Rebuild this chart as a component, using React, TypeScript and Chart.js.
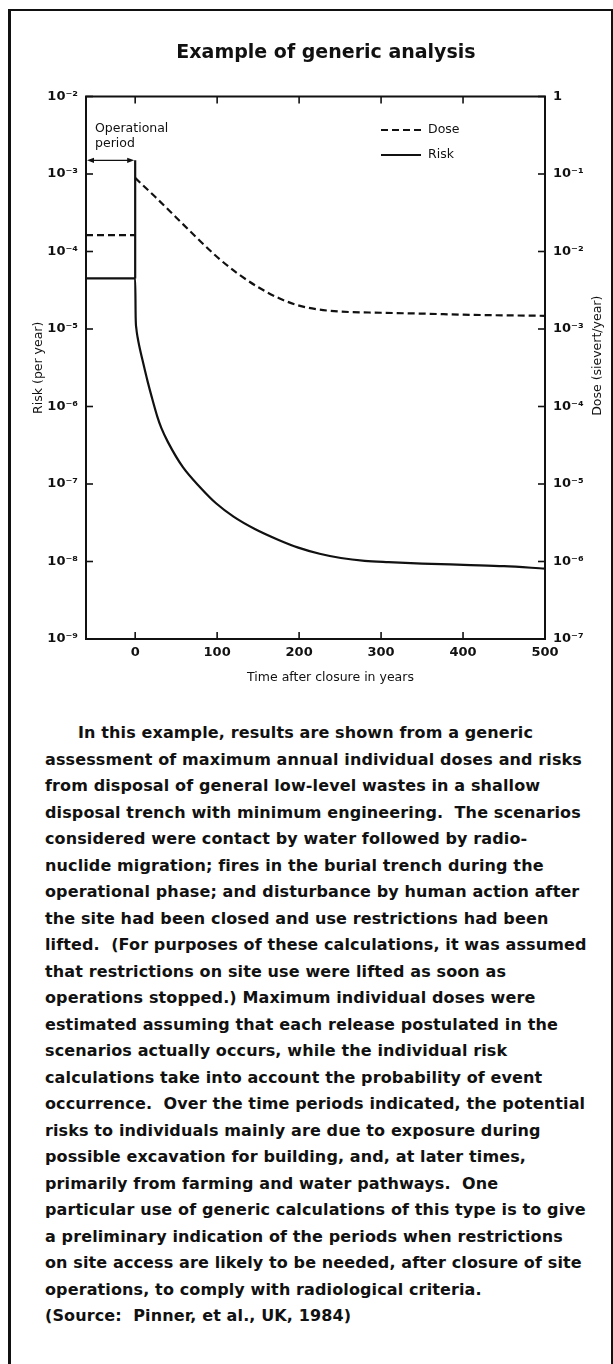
import React, { useEffect, useRef } from 'react';
import { Chart, registerables } from 'chart.js';

Chart.register(...registerables);

// ---------- text ----------
const CHART_TITLE = 'Example of generic analysis';
const X_TITLE = 'Time after closure in years';
const Y_TITLE = 'Risk (per year)';
const Y2_TITLE = 'Dose (sievert/year)';
const OP_LABEL = ['Operational', 'period'];
const LEGEND_LABELS = ['Dose', 'Risk'];

const PARAGRAPH_LINES = [
  'In this example, results are shown from a generic',
  'assessment of maximum annual individual doses and risks',
  'from disposal of general low-level wastes in a shallow',
  'disposal trench with minimum engineering.  The scenarios',
  'considered were contact by water followed by radio-',
  'nuclide migration; fires in the burial trench during the',
  'operational phase; and disturbance by human action after',
  'the site had been closed and use restrictions had been',
  'lifted.  (For purposes of these calculations, it was assumed',
  'that restrictions on site use were lifted as soon as',
  'operations stopped.) Maximum individual doses were',
  'estimated assuming that each release postulated in the',
  'scenarios actually occurs, while the individual risk',
  'calculations take into account the probability of event',
  'occurrence.  Over the time periods indicated, the potential',
  'risks to individuals mainly are due to exposure during',
  'possible excavation for building, and, at later times,',
  'primarily from farming and water pathways.  One',
  'particular use of generic calculations of this type is to give',
  'a preliminary indication of the periods when restrictions',
  'on site access are likely to be needed, after closure of site',
  'operations, to comply with radiological criteria.',
  '(Source:  Pinner, et al., UK, 1984)',
];

// ---------- axes ----------
const X_MIN = -60;
const X_MAX = 500;
const X_TICKS = [0, 100, 200, 300, 400, 500];
const RISK_MIN = 1e-9;
const RISK_MAX = 1e-2;
const RISK_TICKS = [1e-9, 1e-8, 1e-7, 1e-6, 1e-5, 1e-4, 1e-3, 1e-2];
const DOSE_MIN = 1e-7;
const DOSE_MAX = 1;
const DOSE_TICKS = [1e-7, 1e-6, 1e-5, 1e-4, 1e-3, 1e-2, 1e-1, 1];

// ---------- operational period ----------
const OP_START = -60;
const OP_END = 0;
const OP_ARROW_LEVEL = 1.5e-3; // on the risk scale
const OP_MARKER_T = [0, 0];
const OP_MARKER_V = [1.5e-3, 4.5e-5];

// ---------- series ----------
const RISK_T = [-60, 0, 0.6, 1.5, 3, 5, 10, 15, 20, 27, 32, 40, 58, 80, 99, 120, 146, 175, 199, 225, 251, 280, 309, 350, 409, 450, 500];
const RISK_V = [4.5e-5, 4.5e-5, 1.41e-5, 1.0e-5, 7.76e-6, 6.03e-6, 3.55e-6, 2.14e-6, 1.35e-6, 7.41e-7, 5.25e-7, 3.47e-7, 1.66e-7, 8.9e-8, 5.6e-8, 3.8e-8, 2.63e-8, 1.9e-8, 1.51e-8, 1.26e-8, 1.11e-8, 1.02e-8, 9.8e-9, 9.4e-9, 9.0e-9, 8.7e-9, 8.1e-9];

const DOSE_T = [-60, 0, 0, 0, 25, 50, 75, 100, 125, 150, 175, 200, 225, 250, 300, 350, 400, 450, 500];
const DOSE_V = [0.0163, 0.0163, null, 0.089, 0.05, 0.0275, 0.0151, 0.0085, 0.0052, 0.00347, 0.00251, 0.002, 0.00178, 0.00168, 0.00162, 0.00158, 0.00153, 0.0015, 0.00148];

// ---------- style ----------
const INK = '#111111';
const FONT = '"DejaVu Sans", "Liberation Sans", sans-serif';

const SUP: Record<string, string> = {
  '-': '\u207B', '0': '\u2070', '1': '\u00B9', '2': '\u00B2', '3': '\u00B3', '4': '\u2074',
  '5': '\u2075', '6': '\u2076', '7': '\u2077', '8': '\u2078', '9': '\u2079',
};
const powerLabel = (v: number) => {
  const e = Math.round(Math.log10(v));
  if (e === 0) return '1';
  return '10' + String(e).split('').map((c) => SUP[c]).join('');
};

const decorPlugin = {
  id: 'decor',
  afterDraw(chart: any) {
    const { ctx, chartArea: a, scales } = chart;
    const sx = scales.x, sy = scales.y, sy2 = scales.y2;
    ctx.save();
    ctx.strokeStyle = INK;
    ctx.fillStyle = INK;
    const line = (x1: number, y1: number, x2: number, y2: number) => {
      ctx.beginPath(); ctx.moveTo(x1, y1); ctx.lineTo(x2, y2); ctx.stroke();
    };
    // top frame line
    ctx.lineWidth = 2;
    line(a.left - 1, a.top, a.right + 1, a.top);
    // inward tick marks
    ctx.lineWidth = 1.6;
    const L = 7;
    sx.ticks.forEach((t: any) => {
      if (t.value >= X_MAX) return;
      const px = sx.getPixelForValue(t.value);
      line(px, a.top, px, a.top + L);
      line(px, a.bottom, px, a.bottom - L);
    });
    sy.ticks.forEach((t: any) => {
      const py = sy.getPixelForValue(t.value);
      line(a.left, py, a.left + L, py);
    });
    sy2.ticks.forEach((t: any) => {
      const py = sy2.getPixelForValue(t.value);
      line(a.right, py, a.right - L, py);
    });
    // operational period arrow
    const ay = sy.getPixelForValue(OP_ARROW_LEVEL);
    const x1 = sx.getPixelForValue(OP_START) + 1;
    const x2 = sx.getPixelForValue(OP_END) - 1;
    ctx.lineWidth = 1.3;
    line(x1 + 4, ay, x2 - 4, ay);
    const head = (xt: number, dir: number) => {
      ctx.beginPath();
      ctx.moveTo(xt, ay);
      ctx.lineTo(xt + dir * 7, ay - 2.6);
      ctx.lineTo(xt + dir * 7, ay + 2.6);
      ctx.closePath();
      ctx.fill();
    };
    head(x1, 1);
    head(x2, -1);
    ctx.font = `12.5px ${FONT}`;
    ctx.textAlign = 'left';
    ctx.textBaseline = 'middle';
    ctx.fillText(OP_LABEL[0], x1 + 8, ay - 32);
    ctx.fillText(OP_LABEL[1], x1 + 8, ay - 17);
    // legend
    const lx = a.right - 164;
    let ly = a.top + 33.5;
    LEGEND_LABELS.forEach((lab) => {
      const ds = chart.data.datasets.find((d: any) => d.label === lab);
      if (!ds) return;
      ctx.lineWidth = ds.borderWidth;
      ctx.setLineDash(ds.borderDash || []);
      line(lx, ly, lx + 40, ly);
      ctx.setLineDash([]);
      ctx.fillText(lab, lx + 47, ly);
      ly += 25;
    });
    // x-axis title
    ctx.textAlign = 'center';
    ctx.fillText(X_TITLE, (a.left + a.right) / 2 + 15, a.bottom + 39);
    // right axis title (reads bottom to top)
    ctx.save();
    ctx.translate(a.right + 53, (a.top + a.bottom) / 2 - 12);
    ctx.rotate(-Math.PI / 2);
    ctx.fillText(Y2_TITLE, 0, 0);
    ctx.restore();
    ctx.restore();
  },
};

export default function App() {
  const ref = useRef<HTMLCanvasElement>(null);
  useEffect(() => {
    if (!ref.current) return;
    const tickFont = { family: FONT, size: 13, weight: 'bold' as const };
    const chart = new Chart(ref.current, {
      type: 'line',
      data: {
        datasets: [
          {
            label: 'Dose',
            data: DOSE_T.map((t, i) => ({ x: t, y: DOSE_V[i] })) as any,
            xAxisID: 'x',
            yAxisID: 'y2',
            borderColor: INK,
            borderWidth: 2.2,
            borderDash: [7, 4],
            pointRadius: 0,
            cubicInterpolationMode: 'monotone',
            spanGaps: false,
            fill: false,
          },
          {
            label: 'Risk',
            data: RISK_T.map((t, i) => ({ x: t, y: RISK_V[i] })),
            xAxisID: 'x',
            yAxisID: 'y',
            borderColor: INK,
            borderWidth: 2.2,
            pointRadius: 0,
            cubicInterpolationMode: 'monotone',
            fill: false,
          },
          {
            label: 'Operational period',
            data: OP_MARKER_T.map((t, i) => ({ x: t, y: OP_MARKER_V[i] })),
            xAxisID: 'x',
            yAxisID: 'y',
            borderColor: INK,
            borderWidth: 2.2,
            pointRadius: 0,
            tension: 0,
            fill: false,
          },
        ],
      },
      options: {
        responsive: false,
        animation: false,
        layout: { padding: 0 },
        plugins: {
          legend: { display: false },
          tooltip: { enabled: false },
          title: {
            display: true,
            text: CHART_TITLE,
            color: INK,
            font: { family: FONT, size: 19, weight: 'bold', lineHeight: 1.2 },
            padding: { top: 41.6, bottom: 32.1 },
          },
        },
        scales: {
          x: {
            type: 'linear',
            position: 'bottom',
            min: X_MIN,
            max: X_MAX,
            afterBuildTicks: (s: any) => { s.ticks = X_TICKS.map((v) => ({ value: v })); },
            afterFit: (s: any) => { s.height = 61; },
            grid: { display: false, drawTicks: false },
            border: { display: true, color: INK, width: 2 },
            ticks: {
              autoSkip: false, maxRotation: 0, padding: 6, color: INK, font: tickFont,
              callback: (v: any) => String(v),
            },
          },
          y: {
            type: 'logarithmic',
            position: 'left',
            min: RISK_MIN,
            max: RISK_MAX,
            afterBuildTicks: (s: any) => { s.ticks = RISK_TICKS.map((v) => ({ value: v })); },
            afterFit: (s: any) => { s.width = 86; },
            grid: { display: false, drawTicks: false },
            border: { display: true, color: INK, width: 2 },
            ticks: { autoSkip: false, padding: 8, color: INK, font: tickFont, callback: (v: any) => powerLabel(Number(v)) },
            title: {
              display: true,
              text: Y_TITLE,
              color: INK,
              font: { family: FONT, size: 12.5 },
              padding: { top: 31.5, bottom: 0 },
            },
          },
          y2: {
            type: 'logarithmic',
            position: 'right',
            min: DOSE_MIN,
            max: DOSE_MAX,
            afterBuildTicks: (s: any) => { s.ticks = DOSE_TICKS.map((v) => ({ value: v })); },
            afterFit: (s: any) => { s.width = 107; },
            grid: { display: false, drawTicks: false },
            border: { display: true, color: INK, width: 2 },
            ticks: { autoSkip: false, padding: 8, color: INK, font: tickFont, callback: (v: any) => powerLabel(Number(v)) },
          },
        },
      } as any,
      plugins: [decorPlugin],
    });
    return () => chart.destroy();
  }, []);

  return (
    <div style={{ position: 'fixed', left: 0, top: 0, width: 613, height: 1364, overflow: 'hidden', background: '#fff' }}>
      <div
        style={{
          position: 'absolute', left: 8, top: 9, width: 605, height: 1400, boxSizing: 'border-box',
          borderLeft: '3px solid #111', borderTop: '2px solid #111', borderRight: '2px solid #111',
        }}
      />
      <canvas ref={ref} width={652} height={700} style={{ position: 'absolute', left: 0, top: 0, width: 652, height: 700 }} />
      <div
        style={{
          position: 'absolute', left: 45, top: 720, color: '#111', whiteSpace: 'pre',
          fontFamily: FONT, fontWeight: 'bold', fontSize: 16, lineHeight: '26.5px', letterSpacing: '0.12px',
        }}
      >
        {PARAGRAPH_LINES.map((l, i) => (
          <div key={i} style={{ paddingLeft: i === 0 ? 33 : 0 }}>{l}</div>
        ))}
      </div>
    </div>
  );
}
